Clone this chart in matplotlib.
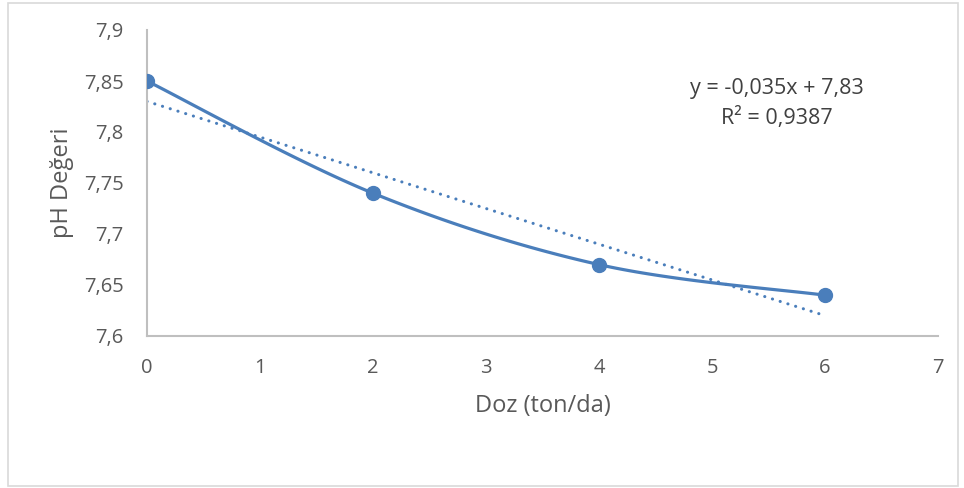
import numpy as np
import matplotlib
matplotlib.use('Agg')
import matplotlib.pyplot as plt
from matplotlib.patches import Rectangle

# Data
doz = [0, 2, 4, 6]
ph = [7.85, 7.74, 7.67, 7.64]
slope, intercept = -0.035, 7.83
equation = 'y = -0,035x + 7,83\nR² = 0,9387'
x_ticks = [0, 1, 2, 3, 4, 5, 6, 7]
y_ticks = [7.6, 7.65, 7.7, 7.75, 7.8, 7.85, 7.9]
y_tick_labels = ['7,6', '7,65', '7,7', '7,75', '7,8', '7,85', '7,9']

blue = '#4a7ebb'
gray = '#595959'
plt.rcParams['font.family'] = ['Open Sans', 'DejaVu Sans']


def smooth(xs, ys, n=40):
    # Excel-like smoothed line: cubic Bezier with Catmull-Rom control points
    px, py = [], []
    pts = list(zip(xs, ys))
    for i in range(len(pts) - 1):
        p0 = np.array(pts[i - 1] if i > 0 else pts[i])
        p1 = np.array(pts[i])
        p2 = np.array(pts[i + 1])
        p3 = np.array(pts[i + 2] if i + 2 < len(pts) else pts[i + 1])
        c1 = p1 + (p2 - p0) / 6
        c2 = p2 - (p3 - p1) / 6
        t = np.linspace(0, 1, n)[:, None]
        seg = ((1 - t) ** 3) * p1 + 3 * ((1 - t) ** 2) * t * c1 + 3 * (1 - t) * t ** 2 * c2 + t ** 3 * p2
        px.extend(seg[:, 0])
        py.extend(seg[:, 1])
    return px, py


fig = plt.figure(figsize=(9.64, 4.88), dpi=100)
ax = fig.add_axes([147 / 964, 1 - 336 / 488, (938 - 147) / 964, (336 - 30) / 488])

sx, sy = smooth(doz, ph)
ax.plot(sx, sy, color=blue, lw=2.3, zorder=3)
ax.plot(doz, ph, 'o', color=blue, markersize=10, zorder=4)

tx = np.array([doz[0], doz[-1]])
ax.plot(tx, slope * tx + intercept, color=blue, lw=2.2,
        linestyle=(0, (0.05, 2.6)), dash_capstyle='round', zorder=2)

ax.text(5.57, 7.828, equation, ha='center', va='center', fontsize=15.5,
        color='#404040', linespacing=1.45)

ax.set_xlim(0, 7)
ax.set_ylim(7.6, 7.9)
ax.set_xticks(x_ticks)
ax.set_yticks(y_ticks)
ax.set_yticklabels(y_tick_labels)
ax.tick_params(length=0, labelsize=14.5, labelcolor=gray)
ax.tick_params(axis='y', pad=17)
ax.tick_params(axis='x', pad=16)

for s in ['top', 'right']:
    ax.spines[s].set_visible(False)
for s in ['left', 'bottom']:
    ax.spines[s].set_color('#bfbfbf')
    ax.spines[s].set_linewidth(1.5)

ax.set_xlabel('Doz (ton/da)', fontsize=17, color=gray, labelpad=11)
ax.set_ylabel('pH Değeri', fontsize=17, color=gray, labelpad=7)

fig.patches.append(Rectangle((8 / 964, 2 / 488), 950 / 964, 483 / 488,
                             transform=fig.transFigure, fill=False,
                             edgecolor='#d9d9d9', lw=1.2))

fig.savefig('out.png', dpi=100)
